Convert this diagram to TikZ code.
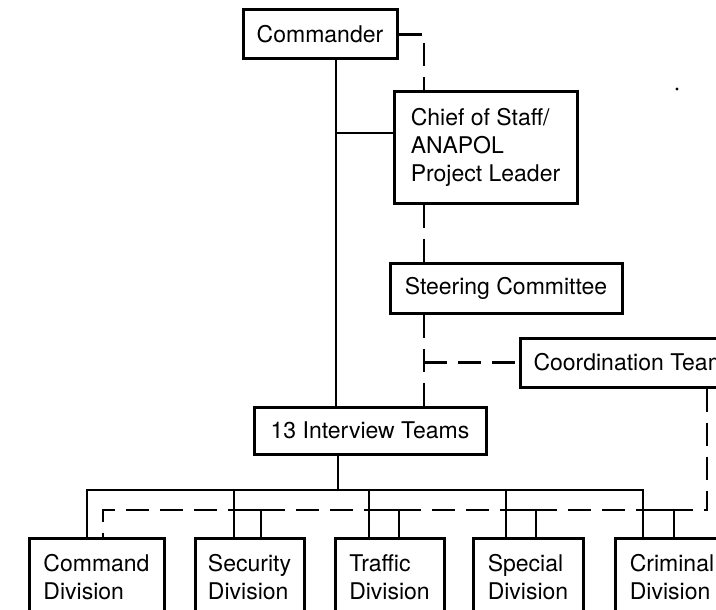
\documentclass[tikz,border=0pt]{standalone}
\usepackage{fontspec}
\setmainfont{TeX Gyre Heros}
\usetikzlibrary{calc}
\begin{document}
\begin{tikzpicture}[x=1pt,y=-1pt,
  box/.style={draw, line width=3pt, inner sep=0pt, font=\fontsize{23}{28}\selectfont, align=center},
  divbox/.style={box, align=left, minimum height=78pt},
  link/.style={line width=2.5pt},
  dlink/.style={line width=2.5pt, dash pattern=on 23pt off 11pt},
]
\useasboundingbox (0,0) rectangle (716,610);
\clip (0,0) rectangle (716,610);

% boxes
\node[box, minimum width=154pt, minimum height=49pt] (cmd) at (320,34.5) {Commander};
\node[box, align=left, minimum width=183pt, minimum height=111pt] (chief) at (485.5,147.5) {Chief of Staff/\\ANAPOL\\Project Leader};
\node[box, minimum width=232pt, minimum height=50pt] (steer) at (506,288) {Steering Committee};
\node[box, anchor=west, inner xsep=13pt, minimum height=49pt] (coord) at (519,362.5) {Coordination Team};
\node[box, minimum width=232pt, minimum height=47pt] (it) at (370,430.5) {13 Interview Teams};
\node[divbox, minimum width=135pt] (dcmd) at (96.5,577) {Command\\Division};
\node[divbox, minimum width=109pt] (dsec) at (249.5,577) {Security\\Division};
\node[divbox, minimum width=109pt] (dtra) at (389.5,577) {Traffic\\Division};
\node[divbox, minimum width=110pt] (dspe) at (528,577) {Special\\Division};
\node[divbox, minimum width=114pt] (dcri) at (672,577) {Criminal\\Division};

% helper coordinates
\coordinate (xa) at (336,0);
\coordinate (ya) at (0,133);
\coordinate (xb) at (424,0);
\coordinate (xc) at (707,0);
\coordinate (xd) at (338,490);
\coordinate (s1) at (87,490);
\coordinate (s2) at (234,490);
\coordinate (s3) at (369,490);
\coordinate (s4) at (506,490);
\coordinate (s5) at (643,490);
\coordinate (t1) at (103,510);
\coordinate (u2) at (261,510);
\coordinate (u3) at (399,510);
\coordinate (u4) at (536,510);
\coordinate (u5) at (674,510);

% solid lines
\draw[link] (cmd.south -| xa) -- (it.north -| xa);
\draw[link] (xa |- ya) -- (chief.west |- ya);
\draw[link] (it.south -| xd) -- (xd);
\draw[link] (dcmd.north -| s1) -- (s1) -- (s5) -- (dcri.north -| s5);
\draw[link] (s2) -- (dsec.north -| s2);
\draw[link] (s3) -- (dtra.north -| s3);
\draw[link] (s4) -- (dspe.north -| s4);

% dashed lines
\draw[dlink] (cmd.east) -| (chief.north -| xb);
\draw[dlink] (chief.south -| xb) -- (steer.north -| xb);
\draw[dlink] (steer.south -| xb) -- (it.north -| xb);
\draw[dlink] (xb |- coord.west) -- (coord.west);
\draw[dlink] (coord.south -| xc) |- (t1) -- (dcmd.north -| t1);

% stubs
\draw[link] ($(u2)+(-21,0)$) -- (u2) -- (dsec.north -| u2);
\draw[link] ($(u3)+(-20,0)$) -- (u3) -- (dtra.north -| u3);
\draw[link] ($(u4)+(-22,0)$) -- (u4) -- (dspe.north -| u4);
\draw[link] ($(u5)+(-20,0)$) -- (u5) -- (dcri.north -| u5);

% speck
\fill (677,89) circle (1.6pt);
\end{tikzpicture}
\end{document}
